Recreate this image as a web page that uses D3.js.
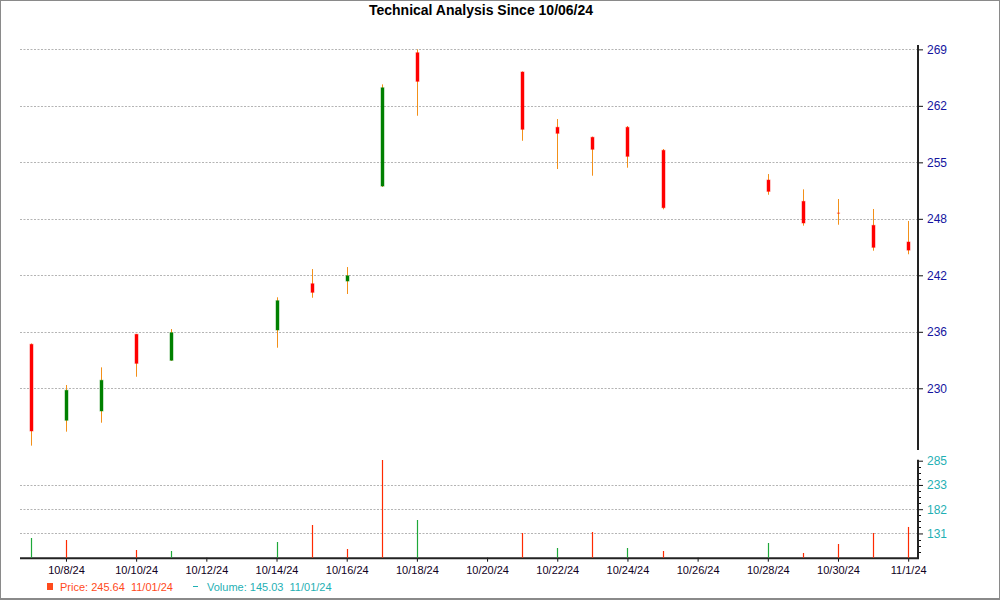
<!DOCTYPE html>
<html>
<head>
<meta charset="utf-8">
<script src="https://cdn.jsdelivr.net/npm/d3@7"></script>
<style>
  html, body { margin: 0; padding: 0; background: #fff; }
  svg { display: block; font-family: "Liberation Sans", Arial, sans-serif; }
</style>
</head>
<body>
<svg id="chart" width="1000" height="600"></svg>
<script>
// ---- data ----
const dates  = ["2024-10-07","2024-10-08","2024-10-09","2024-10-10","2024-10-11",
                "2024-10-14","2024-10-15","2024-10-16","2024-10-17","2024-10-18",
                "2024-10-21","2024-10-22","2024-10-23","2024-10-24","2024-10-25",
                "2024-10-28","2024-10-29","2024-10-30","2024-10-31","2024-11-01"];
const openP  = [234.80,226.06,227.13,235.95,232.96, 236.45,241.77,242.08,253.01,268.35,
                266.13,259.77,258.62,259.77,257.12, 253.70,251.25,249.92,248.49,246.57];
const highP  = [234.90,230.12,232.15,236.00,236.56, 240.21,243.46,243.69,264.71,268.74,
                266.20,260.72,258.70,259.92,257.27, 254.39,252.63,251.52,250.37,248.99];
const lowP   = [223.14,224.75,225.78,231.07,232.90, 234.41,240.16,240.59,252.90,261.10,
                258.22,254.97,254.20,255.12,250.33, 252.01,248.45,248.56,245.57,245.16];
const closeP = [224.83,229.51,230.66,232.61,236.14, 239.82,240.78,242.69,264.32,265.06,
                259.54,259.08,257.24,256.43,250.52, 252.40,248.76,249.88,245.96,245.64];
const volume = [121.7,117.4,79.0,96.3,94.2, 113.2,149.2,98.4,286.7,159.8,
                132.3,100.5,134.4,100.5,94.2, 111.1,89.9,109.0,132.3,145.03];
const volUp  = [true,false,false,false,true, true,false,false,false,true,
                false,true,false,true,false, true,false,false,false,false];
const priceTickLabels  = ["230","236","242","248","255","262","269"];
const volumeTickLabels = ["131","182","233","285"];
const xTickDates = ["2024-10-08","2024-10-10","2024-10-12","2024-10-14","2024-10-16",
                    "2024-10-18","2024-10-20","2024-10-22","2024-10-24","2024-10-26",
                    "2024-10-28","2024-10-30","2024-11-01"];
const titleText = "Technical Analysis Since 10/06/24";
const legendPrice = "Price: 245.64  11/01/24";
const legendVolume = "Volume: 145.03  11/01/24";

// ---- layout ----
const svg = d3.select("#chart");
const parse = d3.utcParse("%Y-%m-%d");
const DAY = 864e5;
const dts = dates.map(parse);
const left = 20, right = 918;
const priceTop = 45, priceBottom = 450;
const volTop = 460.7, volBottom = 557.7;

const x = d3.scaleUtc()
  .domain([new Date(+dts[0] - 0.31 * DAY), new Date(+dts[dts.length - 1] + 0.28 * DAY)])
  .range([left, right]);

const priceStep = 6.5, priceBase = 229.74;
const priceTickVals = priceTickLabels.map((_, i) => priceBase + i * priceStep);
const y = d3.scaleLinear().domain([222.64, 269.24]).range([priceBottom, priceTop]);

const volStep = 51.3, volBase = 80;
const volTickVals = volumeTickLabels.map((_, i) => volBase + (i + 1) * volStep);
const yv = d3.scaleLinear().domain([volBase, volBase + 4 * volStep]).range([volBottom, volTop]);

// frame
svg.append("rect").attr("x", 0.5).attr("y", 0.5).attr("width", 999).attr("height", 599)
  .attr("fill", "none").attr("stroke", "#8a8a8a").attr("stroke-width", 1);
svg.append("line").attr("x1", 0).attr("x2", 1000).attr("y1", 598.5).attr("y2", 598.5)
  .attr("stroke", "#8a8a8a").attr("stroke-width", 1);

// title
svg.append("text").attr("x", 481).attr("y", 15).attr("text-anchor", "middle")
  .attr("font-size", 14).attr("font-weight", "bold").attr("fill", "#000").text(titleText);

// gridlines
const grid = svg.append("g").attr("stroke", "#b4b4b4").attr("stroke-width", 1)
  .attr("stroke-dasharray", "2,1.5");
priceTickVals.forEach(v => {
  const yy = Math.round(y(v)) + 0.5;
  grid.append("line").attr("x1", left).attr("x2", right).attr("y1", yy).attr("y2", yy);
});
volTickVals.slice(0, 3).forEach(v => {
  const yy = Math.round(yv(v)) + 0.5;
  grid.append("line").attr("x1", left).attr("x2", right).attr("y1", yy).attr("y2", yy);
});

// price axis (right)
const pAxis = d3.axisRight(y).tickValues(priceTickVals).tickSize(5).tickPadding(4)
  .tickFormat((d, i) => priceTickLabels[i]);
const pg = svg.append("g").attr("transform", `translate(${right},0)`).call(pAxis);
pg.select(".domain").remove();
pg.selectAll(".tick line").attr("stroke", "#111");
pg.selectAll(".tick text").attr("font-size", 12).attr("fill", "#1414a0")
  .attr("font-family", "Liberation Sans, Arial, sans-serif");
svg.append("line").attr("x1", right).attr("x2", right).attr("y1", priceTop).attr("y2", priceBottom)
  .attr("stroke", "#222").attr("stroke-width", 2);

// volume axis (right)
const vAxis = d3.axisRight(yv).tickValues(volTickVals).tickSize(5).tickPadding(4)
  .tickFormat((d, i) => volumeTickLabels[i]);
const vg = svg.append("g").attr("transform", `translate(${right},0)`).call(vAxis);
vg.select(".domain").remove();
vg.selectAll(".tick line").attr("stroke", "#111");
vg.selectAll(".tick text").attr("font-size", 12).attr("fill", "#1fb0b4")
  .attr("font-family", "Liberation Sans, Arial, sans-serif");
const minorVals = d3.range(1, 16).map(i => volBase + i * volStep / 4).filter((v, i) => (i + 1) % 4 !== 0);
svg.append("g").selectAll("line").data(minorVals).join("line")
  .attr("x1", right).attr("x2", right + 3)
  .attr("y1", d => Math.round(yv(d)) + 0.5).attr("y2", d => Math.round(yv(d)) + 0.5)
  .attr("stroke", "#111");
svg.append("line").attr("x1", right).attr("x2", right).attr("y1", volTop - 1).attr("y2", volBottom + 1)
  .attr("stroke", "#222").attr("stroke-width", 2);

// x axis (bottom)
const xTicks = xTickDates.map(parse);
const xAxis = d3.axisBottom(x).tickValues(xTicks).tickSize(4).tickPadding(5)
  .tickFormat(d3.utcFormat("%-m/%-d/%y"));
const xg = svg.append("g").attr("transform", `translate(0,${volBottom})`).call(xAxis);
xg.select(".domain").remove();
xg.selectAll(".tick line").attr("stroke", "#111");
xg.selectAll(".tick text").attr("font-size", 11).attr("fill", "#110022")
  .attr("font-family", "Liberation Sans, Arial, sans-serif");
svg.append("line").attr("x1", left).attr("x2", right + 1).attr("y1", volBottom + 0.5).attr("y2", volBottom + 0.5)
  .attr("stroke", "#222").attr("stroke-width", 2);

// volume bars
const idx = d3.range(dates.length);
svg.append("g").selectAll("line").data(idx).join("line")
  .attr("x1", i => Math.round(x(dts[i])) + 0.5).attr("x2", i => Math.round(x(dts[i])) + 0.5)
  .attr("y1", volBottom).attr("y2", i => Math.min(volBottom, yv(volume[i])))
  .attr("stroke", i => volUp[i] ? "#1ea83a" : "#ff2a00").attr("stroke-width", 1.2);

// candles: wicks
const cg = svg.append("g");
cg.selectAll("line").data(idx).join("line")
  .attr("x1", i => Math.round(x(dts[i])) + 0.5).attr("x2", i => Math.round(x(dts[i])) + 0.5)
  .attr("y1", i => y(highP[i])).attr("y2", i => y(lowP[i]))
  .attr("stroke", "#f39019").attr("stroke-width", 1);
// bodies
cg.selectAll("rect").data(idx).join("rect")
  .attr("x", i => Math.round(x(dts[i])) - 1)
  .attr("width", 3)
  .attr("y", i => y(Math.max(openP[i], closeP[i])))
  .attr("height", i => Math.abs(y(openP[i]) - y(closeP[i])))
  .attr("fill", i => closeP[i] >= openP[i] ? "#008000" : "#ff0000")
  .attr("stroke", i => closeP[i] >= openP[i] ? "rgba(0,128,0,0.45)" : "rgba(255,0,0,0.45)")
  .attr("stroke-width", i => Math.abs(y(openP[i]) - y(closeP[i])) < 1.5 ? 0.4 : 1);

// legend
const lg = svg.append("g").style("white-space", "pre");
lg.append("rect").attr("x", 47).attr("y", 583).attr("width", 6).attr("height", 7).attr("fill", "#ff4a1c");
lg.append("text").attr("x", 60).attr("y", 591).attr("font-size", 11).attr("fill", "#ff4a1c")
  .attr("xml:space", "preserve").style("white-space", "pre").text(legendPrice);
lg.append("line").attr("x1", 193).attr("x2", 198).attr("y1", 586.5).attr("y2", 586.5)
  .attr("stroke", "#1fb0b4").attr("stroke-width", 1);
lg.append("text").attr("x", 207).attr("y", 591).attr("font-size", 11).attr("fill", "#1fb0b4")
  .attr("xml:space", "preserve").style("white-space", "pre").text(legendVolume);
</script>
</body>
</html>
